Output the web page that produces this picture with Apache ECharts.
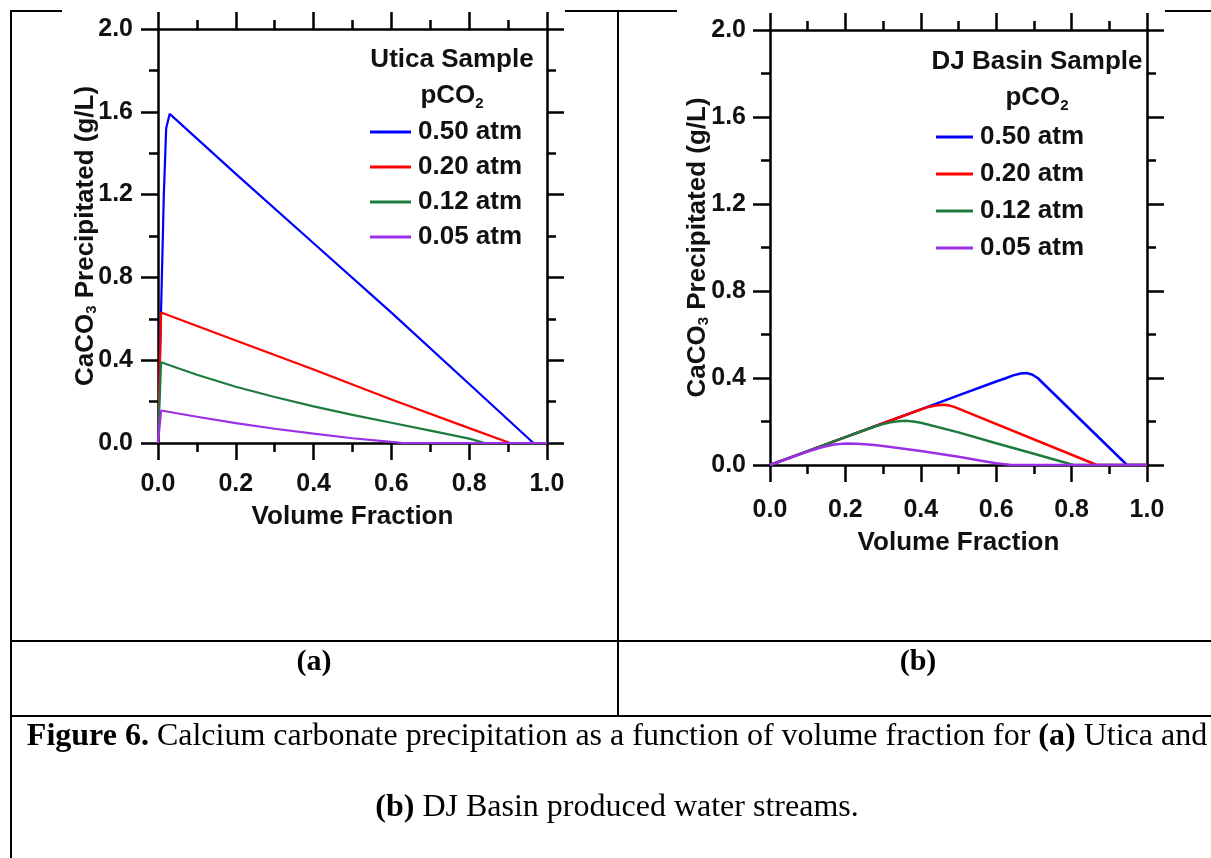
<!DOCTYPE html>
<html><head><meta charset="utf-8">
<script src="https://cdn.jsdelivr.net/npm/echarts@6/dist/echarts.min.js"></script>
<style>html,body{margin:0;padding:0;background:#fff}#c{width:1211px;height:858px}</style>
</head><body><div id="c"></div>
<script>
// ---------- data ----------
const seriesNames = ['0.50 atm', '0.20 atm', '0.12 atm', '0.05 atm'];
const seriesColors = ['#0000FF', '#FF0000', '#1E7B3E', '#9B30E6'];
const xTickValues = [0, 0.2, 0.4, 0.6, 0.8, 1.0];
const yTickValues = [0, 0.4, 0.8, 1.2, 1.6, 2.0];

// (a) Utica sample
const uticaBlueX   = [0, 0.008, 0.015, 0.021, 0.03, 0.2, 0.4, 0.6, 0.8, 0.965, 1.0];
const uticaBlueY   = [0, 0.65, 1.2, 1.52, 1.59, 1.30, 0.965, 0.63, 0.285, 0, 0];
const uticaRedX    = [0, 0.008, 0.2, 0.4, 0.6, 0.8, 0.905, 1.0];
const uticaRedY    = [0, 0.63, 0.495, 0.355, 0.21, 0.072, 0, 0];
const uticaGreenX  = [0, 0.008, 0.05, 0.1, 0.2, 0.3, 0.4, 0.5, 0.6, 0.7, 0.8, 0.84, 1.0];
const uticaGreenY  = [0, 0.39, 0.362, 0.33, 0.272, 0.222, 0.177, 0.136, 0.098, 0.06, 0.021, 0, 0];
const uticaPurpleX = [0, 0.008, 0.1, 0.2, 0.3, 0.4, 0.5, 0.6, 0.63, 1.0];
const uticaPurpleY = [0, 0.157, 0.127, 0.096, 0.069, 0.045, 0.023, 0.005, 0, 0];

// (b) DJ Basin sample
const djBlueX   = [0, 0.1, 0.2, 0.3, 0.4, 0.5, 0.6, 0.625, 0.645, 0.665, 0.68, 0.695, 0.71, 0.947, 1.0];
const djBlueY   = [0, 0.064, 0.128, 0.192, 0.256, 0.32, 0.384, 0.399, 0.412, 0.421, 0.423, 0.416, 0.4, 0, 0];
const djRedX    = [0, 0.1, 0.2, 0.3, 0.4, 0.42, 0.44, 0.46, 0.475, 0.49, 0.867, 1.0];
const djRedY    = [0, 0.064, 0.128, 0.192, 0.255, 0.267, 0.274, 0.277, 0.274, 0.266, 0, 0];
const djGreenX  = [0, 0.1, 0.2, 0.28, 0.3, 0.32, 0.34, 0.36, 0.38, 0.4, 0.5, 0.6, 0.7, 0.805, 1.0];
const djGreenY  = [0, 0.064, 0.128, 0.178, 0.188, 0.196, 0.201, 0.203, 0.2, 0.194, 0.15, 0.1, 0.052, 0, 0];
const djPurpleX = [0, 0.1, 0.14, 0.17, 0.2, 0.23, 0.27, 0.3, 0.4, 0.5, 0.56, 0.6, 0.64, 1.0];
const djPurpleY = [0, 0.062, 0.083, 0.094, 0.099, 0.098, 0.093, 0.087, 0.064, 0.038, 0.02, 0.008, 0, 0];

const uticaSeries = [[uticaBlueX, uticaBlueY], [uticaRedX, uticaRedY], [uticaGreenX, uticaGreenY], [uticaPurpleX, uticaPurpleY]];
const djSeries = [[djBlueX, djBlueY], [djRedX, djRedY], [djGreenX, djGreenY], [djPurpleX, djPurpleY]];

// ---------- styles ----------
const SANS = '"Liberation Sans", Arial, "DejaVu Sans", sans-serif';
const SERIF = '"Liberation Serif", "Times New Roman", serif';
const INK = '#111';
const zip = (xs, ys) => xs.map((x, i) => [x, ys[i]]);
const fmt = v => v.toFixed(1);

function xAxes(grid, labelMargin, nameGap) {
  const common = {
    gridIndex: grid, type: 'value', min: 0, max: 1, interval: 0.2,
    splitLine: { show: false }, minorSplitLine: { show: false },
    axisLine: { onZero: false, lineStyle: { color: '#000', width: 2.5 } },
    axisTick: { length: 17, lineStyle: { color: '#000', width: 2.5 } },
    minorTick: { show: true, splitNumber: 2, length: 9, lineStyle: { color: '#000', width: 2.5 } }
  };
  return [
    Object.assign({}, common, {
      position: 'bottom',
      axisLabel: { margin: labelMargin, fontSize: 25, fontWeight: 'bold', fontFamily: SANS, color: INK, formatter: fmt },
      name: 'Volume Fraction', nameLocation: 'middle', nameGap: nameGap, nameMoveOverlap: false,
      nameTextStyle: { fontSize: 26, fontWeight: 'bold', fontFamily: SANS, color: INK }
    }),
    Object.assign({}, common, { position: 'top', axisLabel: { show: false } })
  ];
}
function yAxes(grid, labelMargin, nameGap) {
  const common = {
    gridIndex: grid, type: 'value', min: 0, max: 2, interval: 0.4,
    splitLine: { show: false }, minorSplitLine: { show: false },
    axisLine: { onZero: false, lineStyle: { color: '#000', width: 2.5 } },
    axisTick: { length: 17, lineStyle: { color: '#000', width: 2.5 } },
    minorTick: { show: true, splitNumber: 2, length: 9, lineStyle: { color: '#000', width: 2.5 } }
  };
  return [
    Object.assign({}, common, {
      position: 'left',
      axisLabel: { margin: labelMargin, fontSize: 25, fontWeight: 'bold', fontFamily: SANS, color: INK, formatter: fmt },
      name: 'CaCO{s|3} Precipitated (g/L)', nameLocation: 'middle', nameGap: nameGap, nameMoveOverlap: false,
      nameTextStyle: { fontSize: 26, fontWeight: 'bold', fontFamily: SANS, color: INK,
        rich: { s: { fontSize: 15, fontWeight: 'bold', fontFamily: SANS, color: INK, verticalAlign: 'bottom', lineHeight: 12 } } }
    }),
    Object.assign({}, common, { position: 'right', axisLabel: { show: false } })
  ];
}

function makeSeries(list, xIdx, yIdx) {
  return list.map((s, i) => ({
    name: seriesNames[i], type: 'line', xAxisIndex: xIdx, yAxisIndex: yIdx,
    data: zip(s[0], s[1]), symbol: 'none', smooth: false,
    lineStyle: { color: seriesColors[i], width: xIdx === 2 ? 2.5 : 2.2 }, itemStyle: { color: seriesColors[i] },
    z: 3 + i
  }));
}

function legendCfg(left, top, gap, w) {
  return {
    left: left, top: top, padding: 0, orient: 'vertical', icon: 'rect', itemWidth: w, itemHeight: 3,
    itemGap: gap, selectedMode: false, data: seriesNames,
    textStyle: { fontSize: 26, fontWeight: 'bold', fontFamily: SANS, color: INK, padding: [0, 0, 0, 2] }
  };
}

function hline(x1, x2, y) { return { type: 'line', shape: { x1: x1, y1: y, x2: x2, y2: y }, style: { stroke: '#000', lineWidth: 2 }, z: 1 }; }
function vline(x, y1, y2) { return { type: 'line', shape: { x1: x, y1: y1, x2: x, y2: y2 }, style: { stroke: '#000', lineWidth: 2 }, z: 1 }; }
function sansText(txt, x, y) {
  return { type: 'text', x: x, y: y, z: 10, style: {
    text: txt, align: 'center', verticalAlign: 'middle', fill: INK,
    fontSize: 26, fontWeight: 'bold', fontFamily: SANS,
    rich: { n: { fontSize: 26, fontWeight: 'bold', fontFamily: SANS, fill: INK, lineHeight: 30 },
            s: { fontSize: 15, fontWeight: 'bold', fontFamily: SANS, fill: INK, verticalAlign: 'bottom', lineHeight: 12 } } } };
}
function serifText(txt, x, y, size) {
  return { type: 'text', x: x, y: y, z: 10, style: {
    text: txt, align: 'center', verticalAlign: 'middle', fill: '#000',
    fontSize: size, fontFamily: SERIF,
    rich: { b: { fontSize: size, fontWeight: 'bold', fontFamily: SERIF, fill: '#000' } } } };
}

const chart = echarts.init(document.getElementById('c'), null, { renderer: 'canvas' });
chart.setOption({
  animation: false,
  backgroundColor: '#fff',
  grid: [
    { left: 158, top: 29, width: 389, height: 414 },
    { left: 770, top: 30, width: 377, height: 435 }
  ],
  xAxis: xAxes(0, 29, 61).concat(xAxes(1, 33, 65)),
  yAxis: yAxes(0, 25, 59).concat(yAxes(1, 24, 59)),
  legend: [legendCfg(370, 119, 9, 41), legendCfg(936, 124, 11, 37)],
  series: makeSeries(uticaSeries, 0, 0).concat(makeSeries(djSeries, 2, 2)),
  graphic: [
    // white strips that crop the chart pictures at the cell edge
    { type: 'rect', shape: { x: 565, y: 20, width: 51, height: 560 }, style: { fill: '#fff' }, z: 50 },
    { type: 'rect', shape: { x: 1165, y: 20, width: 60, height: 560 }, style: { fill: '#fff' }, z: 50 },
    // table borders
    hline(11, 62, 11), hline(565, 677, 11), hline(1165, 1211, 11),
    vline(11, 10, 858), vline(618, 10, 716),
    hline(10, 1211, 641), hline(10, 1211, 716),
    // legend titles
    sansText('Utica Sample', 452, 60), sansText('{n|pCO}{s|2}', 452, 96),
    sansText('DJ Basin Sample', 1037, 62), sansText('{n|pCO}{s|2}', 1037, 98),
    // sub-figure labels & caption
    serifText('{b|(a)}', 314, 662, 30), serifText('{b|(b)}', 918, 662, 30),
    serifText('{b|Figure 6.} Calcium carbonate precipitation as a function of volume fraction for {b|(a)} Utica and', 617, 737, 32),
    serifText('{b|(b)} DJ Basin produced water streams.', 617, 808, 32)
  ]
});
</script></body></html>
